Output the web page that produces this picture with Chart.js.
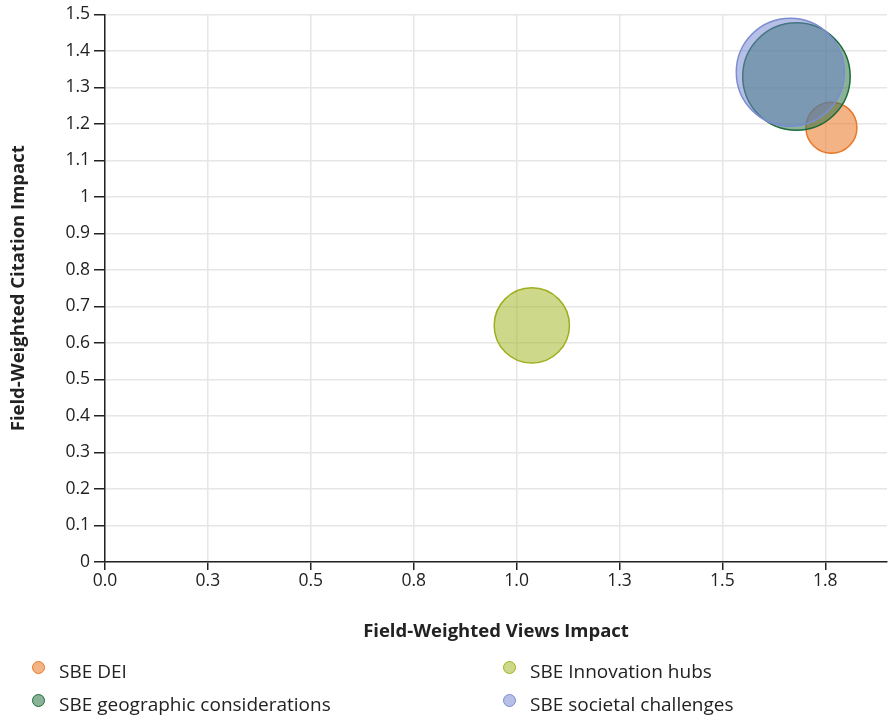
<!DOCTYPE html>
<html lang="en">
  <head>
    <meta charset="UTF-8" />
    <title>FWCI vs FWVI</title>
    <script src="https://cdn.jsdelivr.net/npm/chart.js"></script>
    <style>
      * {
        box-sizing: border-box;
        padding: 0;
        margin: 0;
      }
      body {
        background: #fff;
        font-family: "Open Sans", Lato, sans-serif;
        color: #222;
      }
      .wrap {
        position: relative;
        width: 888px;
        height: 717px;
      }
      #legend {
        position: absolute;
        left: 32px;
        top: 659px;
        width: 850px;
        display: grid;
        grid-template-columns: 471px 1fr;
        row-gap: 9px;
        font-size: 19px;
      }
      #legend .item {
        display: flex;
        align-items: center;
        height: 24px;
      }
      #legend .dot {
        width: 13px;
        height: 13px;
        border-radius: 50%;
        border: 1.5px solid;
        margin-right: 14px;
        margin-top: -8px;
      }
    </style>
  </head>
  <body>
    <div class="wrap">
      <canvas id="myChart"></canvas>
      <div id="legend"></div>
    </div>
  </body>
  <script>
    // topics, in legend order
    const topics = [
      "SBE DEI",
      "SBE geographic considerations",
      "SBE Innovation hubs",
      "SBE societal challenges",
    ];
    const viewsImpact = [1.765, 1.68, 1.037, 1.665]; // x
    const citationImpact = [1.19, 1.33, 0.648, 1.342]; // y
    const scholarlyOutput = [225, 1000, 490, 1010]; // bubble size
    const xTicks = [0, 0.25, 0.5, 0.75, 1, 1.25, 1.5, 1.75];

    const borders = ["#e8772a", "#1d6a3a", "#9fae1c", "#7b8cd0"];
    const fills = [
      "rgba(236, 128, 50, 0.6)",
      "rgba(40, 115, 70, 0.55)",
      "rgba(166, 184, 42, 0.55)",
      "rgba(110, 130, 205, 0.5)",
    ];

    const maxR = 54;
    const maxOut = Math.max(...scholarlyOutput);

    const datasets = topics.map((name, i) => ({
      label: name,
      data: [
        {
          x: viewsImpact[i],
          y: citationImpact[i],
          r: maxR * Math.sqrt(scholarlyOutput[i] / maxOut),
        },
      ],
      backgroundColor: fills[i],
      borderColor: borders[i],
      borderWidth: 1.5,
      order: [3, 2, 1, 0][i],
    }));

    const fam = "'Open Sans', Lato, sans-serif";
    const font = { family: fam, size: 17.5 };
    const titleFont = { family: fam, size: 18.5, weight: "bold" };

    const ctx = document.getElementById("myChart").getContext("2d");
    const myChart = new Chart(ctx, {
      type: "bubble",
      data: { datasets },
      options: {
        responsive: true,
        maintainAspectRatio: false,
        animation: false,
        layout: {
          autoPadding: false,
          padding: { left: 0, right: 1, top: 13, bottom: 75 },
        },
        plugins: {
          legend: { display: false },
          tooltip: { enabled: false },
        },
        scales: {
          x: {
            type: "linear",
            min: 0,
            max: 1.9,
            afterBuildTicks: (s) => {
              s.ticks = xTicks.map((v) => ({ value: v }));
            },
            afterFit: (s) => {
              s.height = 80;
            },
            ticks: {
              color: "#222",
              font,
              padding: 1,
              maxRotation: 0,
              callback: (v) => Number(v).toFixed(1),
            },
            grid: {
              color: "#e6e6e6",
              lineWidth: 1.5,
              tickColor: "#222",
              tickLength: 8,
            },
            border: { display: true, color: "#222", width: 1.5 },
            title: {
              display: true,
              text: "Field-Weighted Views Impact",
              color: "#222",
              font: titleFont,
              padding: { top: 22, bottom: -1 },
            },
          },
          y: {
            min: 0,
            max: 1.5,
            ticks: {
              stepSize: 0.1,
              color: "#222",
              font,
              padding: 4,
              callback: (v) => String(Number(v.toFixed(1))),
            },
            afterFit: (s) => {
              s.width = 105;
            },
            grid: {
              color: "#e6e6e6",
              lineWidth: 1.5,
              tickColor: "#222",
              tickLength: 11,
            },
            border: { display: true, color: "#222", width: 1.5 },
            title: {
              display: true,
              text: "Field-Weighted Citation Impact",
              color: "#222",
              font: titleFont,
              padding: { top: 8, bottom: 0 },
            },
          },
        },
      },
    });

    // html legend built from the datasets
    const legend = document.getElementById("legend");
    const cells = [0, 2, 1, 3];
    cells.forEach((i) => {
      const ds = myChart.data.datasets[i];
      const item = document.createElement("div");
      item.className = "item";
      const dot = document.createElement("span");
      dot.className = "dot";
      dot.style.background = ds.backgroundColor;
      dot.style.borderColor = ds.borderColor;
      const txt = document.createElement("span");
      txt.textContent = ds.label;
      item.appendChild(dot);
      item.appendChild(txt);
      legend.appendChild(item);
    });
  </script>
</html>
